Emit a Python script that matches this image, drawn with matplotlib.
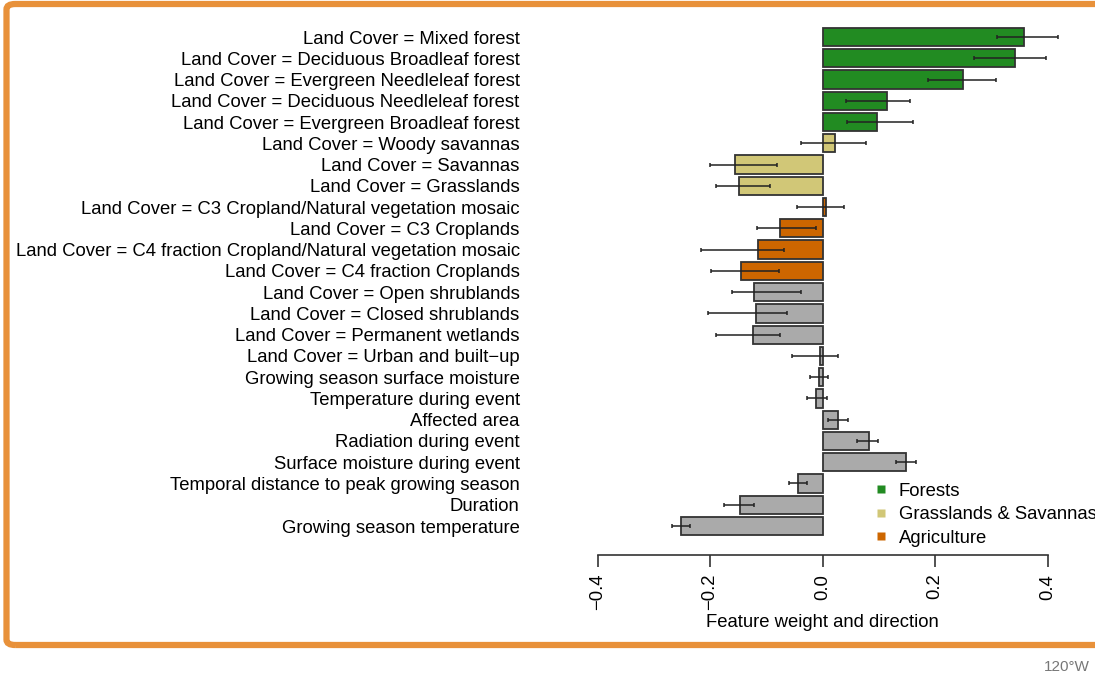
import matplotlib
matplotlib.use("Agg")
import matplotlib.pyplot as plt
import numpy as np
from matplotlib.patches import FancyBboxPatch
from matplotlib.lines import Line2D

plt.rcParams['font.family'] = ['Liberation Sans', 'DejaVu Sans']

features = [
    "Land Cover = Mixed forest",
    "Land Cover = Deciduous Broadleaf forest",
    "Land Cover = Evergreen Needleleaf forest",
    "Land Cover = Deciduous Needleleaf forest",
    "Land Cover = Evergreen Broadleaf forest",
    "Land Cover = Woody savannas",
    "Land Cover = Savannas",
    "Land Cover = Grasslands",
    "Land Cover = C3 Cropland/Natural vegetation mosaic",
    "Land Cover = C3 Croplands",
    "Land Cover = C4 fraction Cropland/Natural vegetation mosaic",
    "Land Cover = C4 fraction Croplands",
    "Land Cover = Open shrublands",
    "Land Cover = Closed shrublands",
    "Land Cover = Permanent wetlands",
    "Land Cover = Urban and built\u2212up",
    "Growing season surface moisture",
    "Temperature during event",
    "Affected area",
    "Radiation during event",
    "Surface moisture during event",
    "Temporal distance to peak growing season",
    "Duration",
    "Growing season temperature",
]
groups = (["forest"] * 5 + ["grass"] * 3 + ["agri"] * 4 + ["other"] * 12)

weight = [0.358, 0.343, 0.249, 0.114, 0.097, 0.023, -0.155, -0.148,
          0.006, -0.076, -0.114, -0.145, -0.121, -0.119, -0.123, -0.005,
          -0.007, -0.011, 0.027, 0.082, 0.148, -0.044, -0.146, -0.252]
err_lo = [0.310, 0.270, 0.187, 0.041, 0.044, -0.039, -0.200, -0.190,
          -0.046, -0.116, -0.216, -0.199, -0.161, -0.204, -0.190, -0.055,
          -0.023, -0.028, 0.010, 0.061, 0.130, -0.060, -0.175, -0.267]
err_hi = [0.419, 0.398, 0.309, 0.156, 0.161, 0.078, -0.081, -0.093,
          0.039, -0.011, -0.069, -0.078, -0.039, -0.064, -0.075, 0.028,
          0.010, 0.008, 0.045, 0.099, 0.166, -0.027, -0.122, -0.235]

palette = {"forest": "#228B22", "grass": "#D1C777",
           "agri": "#CD6600", "other": "#AAAAAA"}
legend_names = [("forest", "Forests"), ("grass", "Grasslands & Savannas"),
                ("agri", "Agriculture")]

FS = 13.3
W, H = 1095, 676
fig = plt.figure(figsize=(W / 100, H / 100), dpi=100)

# plot region in pixels
x0, x1 = 597.5, 1047.5
ytop, ybot = 20, 555
ax = fig.add_axes([x0 / W, 1 - ybot / H, (x1 - x0) / W, (ybot - ytop) / H])

y = np.arange(len(features))
colors = [palette[g] for g in groups]
ax.barh(y, weight, height=0.86, color=colors, edgecolor="#333333",
        linewidth=1.3, clip_on=False)

lo = np.array(err_lo)
hi = np.array(err_hi)
ax.errorbar((lo + hi) / 2, y, xerr=(hi - lo) / 2, fmt="none", ecolor="#222222",
            elinewidth=1.1, capsize=1.6, capthick=1.1, clip_on=False)

ax.set_xlim(-0.4, 0.4)
ax.set_ylim(len(features) - 1 + 1.364, -0.8)

for s in ["top", "right", "left"]:
    ax.spines[s].set_visible(False)
ax.spines["bottom"].set_color("#333333")
ax.spines["bottom"].set_linewidth(1.2)

ax.set_xticks([-0.4, -0.2, 0.0, 0.2, 0.4])
ax.set_xticklabels(["\u22120.4", "\u22120.2", "0.0", "0.2", "0.4"],
                   rotation=90, fontsize=FS)
ax.tick_params(axis="x", length=8.5, width=1.2, color="#333333", pad=5)
ax.set_xlabel("Feature weight and direction", fontsize=FS, labelpad=3)

ax.set_yticks(y)
ax.set_yticklabels(features, fontsize=FS)
ax.tick_params(axis="y", length=0, pad=56)

handles = [Line2D([], [], marker="s", linestyle="none", markersize=5.5,
                  markerfacecolor=palette[k], markeredgecolor="none")
           for k, _ in legend_names]
ax.legend(handles, [n for _, n in legend_names], loc="upper left",
          bbox_to_anchor=(0.573, 0.166), frameon=False, fontsize=FS,
          handletextpad=0.45, labelspacing=0.35, handlelength=1.0)

# orange rounded frame
frame = FancyBboxPatch((6.5 / W, 1 - 645 / H), 1.05, (645 - 4) / H,
                       boxstyle="round,pad=0,rounding_size=0.008",
                       transform=fig.transFigure, facecolor="none",
                       edgecolor="#E8913A", linewidth=4.5, clip_on=False)
fig.patches.append(frame)

fig.text(1090 / W, 1 - 667 / H, "120\u00b0W", ha="right", va="center",
         fontsize=11, color="#777777")

fig.savefig("out.png", dpi=100)
